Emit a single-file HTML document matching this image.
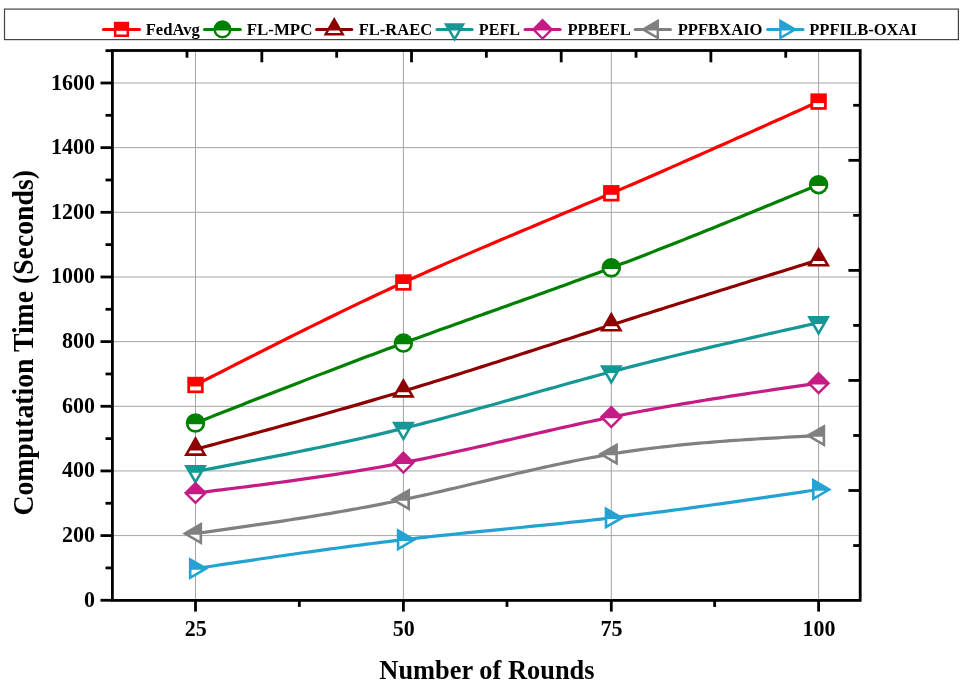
<!DOCTYPE html>
<html><head><meta charset="utf-8"><style>html,body{margin:0;padding:0;background:#fff;width:963px;height:686px;overflow:hidden}svg{display:block;will-change:transform}text{font-family:"Liberation Serif",serif;font-weight:bold}</style></head>
<body>
<svg width="963" height="686" viewBox="0 0 963 686" font-family="Liberation Serif, serif" font-weight="bold">
<rect width="963" height="686" fill="#fff"/>
<rect x="4.5" y="9.1" width="953.9" height="30.5" fill="#fff" stroke="#444" stroke-width="1.2"/>
<g stroke="#a4a4a4" stroke-width="1"><line x1="195.50" y1="50.5" x2="195.50" y2="600.4"/><line x1="403.40" y1="50.5" x2="403.40" y2="600.4"/><line x1="611.30" y1="50.5" x2="611.30" y2="600.4"/><line x1="818.60" y1="50.5" x2="818.60" y2="600.4"/><line x1="112.4" y1="535.60" x2="860.2" y2="535.60"/><line x1="112.4" y1="470.94" x2="860.2" y2="470.94"/><line x1="112.4" y1="406.29" x2="860.2" y2="406.29"/><line x1="112.4" y1="341.63" x2="860.2" y2="341.63"/><line x1="112.4" y1="276.97" x2="860.2" y2="276.97"/><line x1="112.4" y1="212.31" x2="860.2" y2="212.31"/><line x1="112.4" y1="147.65" x2="860.2" y2="147.65"/><line x1="112.4" y1="83.00" x2="860.2" y2="83.00"/></g>
<g stroke="#000" stroke-width="2.8"><line x1="100.50" y1="600.26" x2="112.4" y2="600.26"/><line x1="100.50" y1="535.60" x2="112.4" y2="535.60"/><line x1="100.50" y1="470.94" x2="112.4" y2="470.94"/><line x1="100.50" y1="406.29" x2="112.4" y2="406.29"/><line x1="100.50" y1="341.63" x2="112.4" y2="341.63"/><line x1="100.50" y1="276.97" x2="112.4" y2="276.97"/><line x1="100.50" y1="212.31" x2="112.4" y2="212.31"/><line x1="100.50" y1="147.65" x2="112.4" y2="147.65"/><line x1="100.50" y1="83.00" x2="112.4" y2="83.00"/><line x1="105.50" y1="567.93" x2="112.4" y2="567.93"/><line x1="105.50" y1="503.27" x2="112.4" y2="503.27"/><line x1="105.50" y1="438.62" x2="112.4" y2="438.62"/><line x1="105.50" y1="373.96" x2="112.4" y2="373.96"/><line x1="105.50" y1="309.30" x2="112.4" y2="309.30"/><line x1="105.50" y1="244.64" x2="112.4" y2="244.64"/><line x1="105.50" y1="179.98" x2="112.4" y2="179.98"/><line x1="105.50" y1="115.32" x2="112.4" y2="115.32"/><line x1="105.50" y1="50.67" x2="112.4" y2="50.67"/><line x1="195.50" y1="600.4" x2="195.50" y2="611.60"/><line x1="403.40" y1="600.4" x2="403.40" y2="611.60"/><line x1="611.30" y1="600.4" x2="611.30" y2="611.60"/><line x1="818.60" y1="600.4" x2="818.60" y2="611.60"/><line x1="299.33" y1="600.4" x2="299.33" y2="606.90"/><line x1="507.00" y1="600.4" x2="507.00" y2="606.90"/><line x1="714.67" y1="600.4" x2="714.67" y2="606.90"/><line x1="187.00" y1="50.5" x2="187.00" y2="57.70"/><line x1="261.84" y1="50.5" x2="261.84" y2="62.30"/><line x1="336.68" y1="50.5" x2="336.68" y2="57.70"/><line x1="411.52" y1="50.5" x2="411.52" y2="62.30"/><line x1="486.36" y1="50.5" x2="486.36" y2="57.70"/><line x1="561.20" y1="50.5" x2="561.20" y2="62.30"/><line x1="636.04" y1="50.5" x2="636.04" y2="57.70"/><line x1="710.88" y1="50.5" x2="710.88" y2="62.30"/><line x1="785.72" y1="50.5" x2="785.72" y2="57.70"/><line x1="860.2" y1="105.30" x2="853.20" y2="105.30"/><line x1="860.2" y1="160.33" x2="848.40" y2="160.33"/><line x1="860.2" y1="215.36" x2="853.20" y2="215.36"/><line x1="860.2" y1="270.39" x2="848.40" y2="270.39"/><line x1="860.2" y1="325.42" x2="853.20" y2="325.42"/><line x1="860.2" y1="380.45" x2="848.40" y2="380.45"/><line x1="860.2" y1="435.48" x2="853.20" y2="435.48"/><line x1="860.2" y1="490.51" x2="848.40" y2="490.51"/><line x1="860.2" y1="545.54" x2="853.20" y2="545.54"/></g>
<rect x="112.4" y="50.5" width="747.80" height="549.90" fill="none" stroke="#000" stroke-width="2.8"/>
<g font-size="22" fill="#000"><text transform="translate(95.1,606.76) scale(1,1.01)" text-anchor="end">0</text><text transform="translate(95.1,542.10) scale(1,1.01)" text-anchor="end">200</text><text transform="translate(95.1,477.44) scale(1,1.01)" text-anchor="end">400</text><text transform="translate(95.1,412.79) scale(1,1.01)" text-anchor="end">600</text><text transform="translate(95.1,348.13) scale(1,1.01)" text-anchor="end">800</text><text transform="translate(95.1,283.47) scale(1,1.01)" text-anchor="end">1000</text><text transform="translate(95.1,218.81) scale(1,1.01)" text-anchor="end">1200</text><text transform="translate(95.1,154.15) scale(1,1.01)" text-anchor="end">1400</text><text transform="translate(95.1,89.50) scale(1,1.01)" text-anchor="end">1600</text><text transform="translate(195.80,635.9) scale(1,1.01)" text-anchor="middle">25</text><text transform="translate(403.70,635.9) scale(1,1.01)" text-anchor="middle">50</text><text transform="translate(611.60,635.9) scale(1,1.01)" text-anchor="middle">75</text><text transform="translate(818.90,635.9) scale(1,1.01)" text-anchor="middle">100</text></g>
<text x="379.37" y="679.4" font-size="27" textLength="215.19" lengthAdjust="spacingAndGlyphs">Number of Rounds</text>
<text transform="translate(32.8,515.6) rotate(-90)" x="0" y="0" font-size="29" textLength="345.5" lengthAdjust="spacingAndGlyphs">Computation Time (Seconds)</text>
<polyline points="195.50,385.00 200.70,382.34 205.90,379.69 211.09,377.03 216.29,374.38 221.49,371.73 226.69,369.08 231.88,366.43 237.08,363.78 242.28,361.14 247.47,358.50 252.67,355.86 257.87,353.23 263.07,350.60 268.26,347.98 273.46,345.36 278.66,342.75 283.86,340.14 289.06,337.54 294.25,334.94 299.45,332.35 304.65,329.77 309.84,327.19 315.04,324.63 320.24,322.07 325.44,319.52 330.63,316.97 335.83,314.44 341.03,311.92 346.23,309.40 351.42,306.90 356.62,304.41 361.82,301.93 367.02,299.45 372.21,296.99 377.41,294.55 382.61,292.11 387.81,289.69 393.00,287.28 398.20,284.88 403.40,282.50 408.60,280.13 413.79,277.78 418.99,275.43 424.19,273.10 429.39,270.78 434.58,268.48 439.78,266.18 444.98,263.90 450.18,261.62 455.38,259.36 460.57,257.10 465.77,254.85 470.97,252.61 476.16,250.38 481.36,248.15 486.56,245.93 491.76,243.72 496.95,241.51 502.15,239.31 507.35,237.11 512.55,234.92 517.75,232.72 522.94,230.54 528.14,228.35 533.34,226.17 538.53,223.98 543.73,221.80 548.93,219.62 554.13,217.44 559.32,215.26 564.52,213.08 569.72,210.89 574.92,208.71 580.12,206.52 585.31,204.32 590.51,202.13 595.71,199.93 600.90,197.72 606.10,195.52 611.30,193.30 616.48,191.09 621.66,188.86 626.85,186.64 632.03,184.41 637.21,182.17 642.39,179.93 647.58,177.68 652.76,175.43 657.94,173.17 663.12,170.91 668.31,168.64 673.49,166.37 678.67,164.09 683.86,161.81 689.04,159.53 694.22,157.24 699.40,154.95 704.59,152.66 709.77,150.36 714.95,148.06 720.13,145.75 725.31,143.45 730.50,141.14 735.68,138.82 740.86,136.51 746.05,134.19 751.23,131.87 756.41,129.55 761.59,127.23 766.77,124.90 771.96,122.58 777.14,120.25 782.32,117.92 787.50,115.59 792.69,113.26 797.87,110.93 803.05,108.60 808.24,106.27 813.42,103.93 818.60,101.60" fill="none" stroke="#FF0000" stroke-width="3.2" stroke-linejoin="round"/>
<polyline points="195.50,423.00 200.70,420.96 205.90,418.92 211.09,416.88 216.29,414.84 221.49,412.80 226.69,410.76 231.88,408.72 237.08,406.68 242.28,404.65 247.47,402.61 252.67,400.58 257.87,398.55 263.07,396.52 268.26,394.49 273.46,392.47 278.66,390.45 283.86,388.43 289.06,386.41 294.25,384.40 299.45,382.39 304.65,380.38 309.84,378.38 315.04,376.38 320.24,374.38 325.44,372.39 330.63,370.40 335.83,368.42 341.03,366.44 346.23,364.47 351.42,362.50 356.62,360.53 361.82,358.57 367.02,356.62 372.21,354.67 377.41,352.73 382.61,350.79 387.81,348.86 393.00,346.93 398.20,345.01 403.40,343.10 408.60,341.19 413.79,339.29 418.99,337.40 424.19,335.51 429.39,333.63 434.58,331.75 439.78,329.87 444.98,328.00 450.18,326.14 455.38,324.27 460.57,322.41 465.77,320.55 470.97,318.69 476.16,316.84 481.36,314.98 486.56,313.13 491.76,311.27 496.95,309.42 502.15,307.56 507.35,305.71 512.55,303.85 517.75,301.99 522.94,300.13 528.14,298.27 533.34,296.40 538.53,294.53 543.73,292.66 548.93,290.78 554.13,288.90 559.32,287.02 564.52,285.13 569.72,283.23 574.92,281.33 580.12,279.42 585.31,277.50 590.51,275.58 595.71,273.64 600.90,271.70 606.10,269.76 611.30,267.80 616.48,265.84 621.66,263.87 626.85,261.89 632.03,259.91 637.21,257.91 642.39,255.91 647.58,253.90 652.76,251.88 657.94,249.86 663.12,247.83 668.31,245.79 673.49,243.74 678.67,241.69 683.86,239.63 689.04,237.57 694.22,235.50 699.40,233.42 704.59,231.34 709.77,229.26 714.95,227.17 720.13,225.07 725.31,222.97 730.50,220.87 735.68,218.76 740.86,216.65 746.05,214.53 751.23,212.42 756.41,210.30 761.59,208.17 766.77,206.05 771.96,203.92 777.14,201.79 782.32,199.66 787.50,197.52 792.69,195.39 797.87,193.25 803.05,191.11 808.24,188.98 813.42,186.84 818.60,184.70" fill="none" stroke="#008000" stroke-width="3.2" stroke-linejoin="round"/>
<polyline points="195.50,449.30 200.70,447.90 205.90,446.50 211.09,445.10 216.29,443.69 221.49,442.29 226.69,440.89 231.88,439.48 237.08,438.07 242.28,436.67 247.47,435.26 252.67,433.84 257.87,432.43 263.07,431.01 268.26,429.59 273.46,428.17 278.66,426.75 283.86,425.32 289.06,423.89 294.25,422.45 299.45,421.01 304.65,419.57 309.84,418.12 315.04,416.67 320.24,415.21 325.44,413.75 330.63,412.28 335.83,410.81 341.03,409.33 346.23,407.85 351.42,406.36 356.62,404.86 361.82,403.36 367.02,401.85 372.21,400.34 377.41,398.82 382.61,397.29 387.81,395.75 393.00,394.21 398.20,392.66 403.40,391.10 408.60,389.53 413.79,387.96 418.99,386.38 424.19,384.79 429.39,383.19 434.58,381.59 439.78,379.98 444.98,378.36 450.18,376.74 455.38,375.11 460.57,373.48 465.77,371.84 470.97,370.20 476.16,368.55 481.36,366.90 486.56,365.24 491.76,363.58 496.95,361.92 502.15,360.25 507.35,358.58 512.55,356.91 517.75,355.24 522.94,353.56 528.14,351.88 533.34,350.20 538.53,348.52 543.73,346.84 548.93,345.15 554.13,343.47 559.32,341.79 564.52,340.10 569.72,338.42 574.92,336.74 580.12,335.06 585.31,333.38 590.51,331.70 595.71,330.02 600.90,328.34 606.10,326.67 611.30,325.00 616.48,323.34 621.66,321.68 626.85,320.02 632.03,318.36 637.21,316.71 642.39,315.06 647.58,313.41 652.76,311.77 657.94,310.12 663.12,308.48 668.31,306.84 673.49,305.21 678.67,303.57 683.86,301.94 689.04,300.31 694.22,298.68 699.40,297.05 704.59,295.42 709.77,293.80 714.95,292.17 720.13,290.55 725.31,288.93 730.50,287.31 735.68,285.69 740.86,284.07 746.05,282.46 751.23,280.84 756.41,279.23 761.59,277.61 766.77,276.00 771.96,274.39 777.14,272.78 782.32,271.17 787.50,269.56 792.69,267.95 797.87,266.34 803.05,264.73 808.24,263.12 813.42,261.51 818.60,259.90" fill="none" stroke="#8E0000" stroke-width="3.2" stroke-linejoin="round"/>
<polyline points="195.50,471.50 200.70,470.52 205.90,469.55 211.09,468.57 216.29,467.60 221.49,466.62 226.69,465.63 231.88,464.65 237.08,463.67 242.28,462.68 247.47,461.68 252.67,460.69 257.87,459.69 263.07,458.68 268.26,457.67 273.46,456.66 278.66,455.63 283.86,454.61 289.06,453.57 294.25,452.53 299.45,451.48 304.65,450.43 309.84,449.36 315.04,448.29 320.24,447.21 325.44,446.12 330.63,445.02 335.83,443.91 341.03,442.79 346.23,441.66 351.42,440.52 356.62,439.36 361.82,438.20 367.02,437.02 372.21,435.83 377.41,434.63 382.61,433.41 387.81,432.18 393.00,430.93 398.20,429.67 403.40,428.40 408.60,427.11 413.79,425.81 418.99,424.49 424.19,423.16 429.39,421.81 434.58,420.45 439.78,419.09 444.98,417.71 450.18,416.32 455.38,414.92 460.57,413.51 465.77,412.10 470.97,410.68 476.16,409.25 481.36,407.81 486.56,406.37 491.76,404.92 496.95,403.47 502.15,402.02 507.35,400.56 512.55,399.10 517.75,397.64 522.94,396.18 528.14,394.71 533.34,393.25 538.53,391.79 543.73,390.33 548.93,388.87 554.13,387.42 559.32,385.97 564.52,384.52 569.72,383.08 574.92,381.64 580.12,380.21 585.31,378.79 590.51,377.37 595.71,375.97 600.90,374.57 606.10,373.18 611.30,371.80 616.48,370.44 621.66,369.08 626.85,367.74 632.03,366.40 637.21,365.08 642.39,363.76 647.58,362.46 652.76,361.16 657.94,359.87 663.12,358.59 668.31,357.32 673.49,356.05 678.67,354.80 683.86,353.55 689.04,352.30 694.22,351.07 699.40,349.84 704.59,348.61 709.77,347.39 714.95,346.18 720.13,344.97 725.31,343.77 730.50,342.58 735.68,341.38 740.86,340.19 746.05,339.01 751.23,337.83 756.41,336.65 761.59,335.48 766.77,334.31 771.96,333.14 777.14,331.97 782.32,330.81 787.50,329.65 792.69,328.49 797.87,327.33 803.05,326.17 808.24,325.01 813.42,323.86 818.60,322.70" fill="none" stroke="#169694" stroke-width="3.2" stroke-linejoin="round"/>
<polyline points="195.50,493.00 200.70,492.36 205.90,491.73 211.09,491.09 216.29,490.45 221.49,489.81 226.69,489.17 231.88,488.52 237.08,487.87 242.28,487.22 247.47,486.56 252.67,485.90 257.87,485.24 263.07,484.56 268.26,483.89 273.46,483.20 278.66,482.51 283.86,481.81 289.06,481.11 294.25,480.39 299.45,479.67 304.65,478.94 309.84,478.20 315.04,477.45 320.24,476.68 325.44,475.91 330.63,475.13 335.83,474.33 341.03,473.52 346.23,472.70 351.42,471.87 356.62,471.02 361.82,470.16 367.02,469.28 372.21,468.39 377.41,467.48 382.61,466.56 387.81,465.62 393.00,464.66 398.20,463.69 403.40,462.70 408.60,461.69 413.79,460.66 418.99,459.62 424.19,458.56 429.39,457.49 434.58,456.40 439.78,455.30 444.98,454.19 450.18,453.06 455.38,451.93 460.57,450.78 465.77,449.63 470.97,448.47 476.16,447.30 481.36,446.12 486.56,444.94 491.76,443.75 496.95,442.56 502.15,441.37 507.35,440.18 512.55,438.98 517.75,437.78 522.94,436.58 528.14,435.39 533.34,434.20 538.53,433.00 543.73,431.82 548.93,430.63 554.13,429.46 559.32,428.29 564.52,427.12 569.72,425.97 574.92,424.82 580.12,423.68 585.31,422.55 590.51,421.44 595.71,420.33 600.90,419.24 606.10,418.16 611.30,417.10 616.48,416.06 621.66,415.03 626.85,414.01 632.03,413.01 637.21,412.02 642.39,411.05 647.58,410.09 652.76,409.14 657.94,408.20 663.12,407.28 668.31,406.37 673.49,405.47 678.67,404.58 683.86,403.70 689.04,402.83 694.22,401.97 699.40,401.12 704.59,400.27 709.77,399.44 714.95,398.61 720.13,397.80 725.31,396.98 730.50,396.18 735.68,395.38 740.86,394.59 746.05,393.81 751.23,393.03 756.41,392.25 761.59,391.48 766.77,390.71 771.96,389.95 777.14,389.19 782.32,388.44 787.50,387.68 792.69,386.93 797.87,386.18 803.05,385.44 808.24,384.69 813.42,383.95 818.60,383.20" fill="none" stroke="#C41C84" stroke-width="3.2" stroke-linejoin="round"/>
<polyline points="195.50,533.50 200.70,532.77 205.90,532.05 211.09,531.32 216.29,530.59 221.49,529.86 226.69,529.13 231.88,528.40 237.08,527.66 242.28,526.92 247.47,526.17 252.67,525.42 257.87,524.67 263.07,523.90 268.26,523.14 273.46,522.36 278.66,521.58 283.86,520.80 289.06,520.00 294.25,519.20 299.45,518.38 304.65,517.56 309.84,516.73 315.04,515.89 320.24,515.04 325.44,514.18 330.63,513.30 335.83,512.42 341.03,511.52 346.23,510.61 351.42,509.68 356.62,508.74 361.82,507.79 367.02,506.82 372.21,505.84 377.41,504.84 382.61,503.83 387.81,502.80 393.00,501.75 398.20,500.68 403.40,499.60 408.60,498.50 413.79,497.38 418.99,496.25 424.19,495.10 429.39,493.94 434.58,492.76 439.78,491.57 444.98,490.38 450.18,489.17 455.38,487.96 460.57,486.74 465.77,485.52 470.97,484.29 476.16,483.06 481.36,481.83 486.56,480.60 491.76,479.37 496.95,478.14 502.15,476.92 507.35,475.70 512.55,474.48 517.75,473.27 522.94,472.07 528.14,470.88 533.34,469.70 538.53,468.54 543.73,467.38 548.93,466.24 554.13,465.11 559.32,464.01 564.52,462.92 569.72,461.84 574.92,460.79 580.12,459.76 585.31,458.75 590.51,457.77 595.71,456.81 600.90,455.88 606.10,454.98 611.30,454.10 616.48,453.26 621.66,452.44 626.85,451.65 632.03,450.89 637.21,450.16 642.39,449.46 647.58,448.77 652.76,448.12 657.94,447.48 663.12,446.87 668.31,446.29 673.49,445.72 678.67,445.18 683.86,444.65 689.04,444.14 694.22,443.66 699.40,443.19 704.59,442.73 709.77,442.30 714.95,441.88 720.13,441.47 725.31,441.08 730.50,440.70 735.68,440.34 740.86,439.98 746.05,439.64 751.23,439.31 756.41,438.99 761.59,438.67 766.77,438.37 771.96,438.07 777.14,437.78 782.32,437.49 787.50,437.21 792.69,436.94 797.87,436.67 803.05,436.40 808.24,436.13 813.42,435.86 818.60,435.60" fill="none" stroke="#808080" stroke-width="3.2" stroke-linejoin="round"/>
<polyline points="195.50,568.60 200.70,567.82 205.90,567.04 211.09,566.26 216.29,565.48 221.49,564.70 226.69,563.92 231.88,563.15 237.08,562.37 242.28,561.60 247.47,560.83 252.67,560.06 257.87,559.29 263.07,558.53 268.26,557.77 273.46,557.01 278.66,556.25 283.86,555.50 289.06,554.76 294.25,554.01 299.45,553.27 304.65,552.54 309.84,551.81 315.04,551.08 320.24,550.36 325.44,549.65 330.63,548.94 335.83,548.23 341.03,547.53 346.23,546.84 351.42,546.16 356.62,545.48 361.82,544.81 367.02,544.14 372.21,543.48 377.41,542.83 382.61,542.19 387.81,541.56 393.00,540.93 398.20,540.31 403.40,539.70 408.60,539.10 413.79,538.51 418.99,537.92 424.19,537.34 429.39,536.77 434.58,536.21 439.78,535.65 444.98,535.10 450.18,534.55 455.38,534.01 460.57,533.47 465.77,532.94 470.97,532.41 476.16,531.89 481.36,531.36 486.56,530.84 491.76,530.32 496.95,529.80 502.15,529.29 507.35,528.77 512.55,528.25 517.75,527.74 522.94,527.22 528.14,526.70 533.34,526.18 538.53,525.66 543.73,525.13 548.93,524.61 554.13,524.08 559.32,523.54 564.52,523.00 569.72,522.46 574.92,521.91 580.12,521.36 585.31,520.80 590.51,520.23 595.71,519.66 600.90,519.08 606.10,518.50 611.30,517.90 616.48,517.30 621.66,516.69 626.85,516.07 632.03,515.44 637.21,514.81 642.39,514.17 647.58,513.52 652.76,512.87 657.94,512.21 663.12,511.54 668.31,510.86 673.49,510.18 678.67,509.50 683.86,508.80 689.04,508.11 694.22,507.40 699.40,506.69 704.59,505.98 709.77,505.26 714.95,504.54 720.13,503.82 725.31,503.09 730.50,502.35 735.68,501.61 740.86,500.87 746.05,500.13 751.23,499.38 756.41,498.63 761.59,497.88 766.77,497.13 771.96,496.37 777.14,495.61 782.32,494.85 787.50,494.09 792.69,493.33 797.87,492.56 803.05,491.80 808.24,491.03 813.42,490.27 818.60,489.50" fill="none" stroke="#24A3D3" stroke-width="3.2" stroke-linejoin="round"/>
<rect x="187.30" y="376.80" width="16.40" height="16.40" fill="#FF0000"/>
<rect x="190.05" y="386.50" width="10.90" height="3.95" fill="#fff"/>
<rect x="395.20" y="274.30" width="16.40" height="16.40" fill="#FF0000"/>
<rect x="397.95" y="284.00" width="10.90" height="3.95" fill="#fff"/>
<rect x="603.10" y="185.10" width="16.40" height="16.40" fill="#FF0000"/>
<rect x="605.85" y="194.80" width="10.90" height="3.95" fill="#fff"/>
<rect x="810.40" y="93.40" width="16.40" height="16.40" fill="#FF0000"/>
<rect x="813.15" y="103.10" width="10.90" height="3.95" fill="#fff"/>
<circle cx="195.50" cy="423.00" r="9.75" fill="#008000"/>
<path d="M188.55,424.20 A7.05,7.05 0 0 0 202.45,424.20 Z" fill="#fff"/>
<circle cx="403.40" cy="343.10" r="9.75" fill="#008000"/>
<path d="M396.45,344.30 A7.05,7.05 0 0 0 410.35,344.30 Z" fill="#fff"/>
<circle cx="611.30" cy="267.80" r="9.75" fill="#008000"/>
<path d="M604.35,269.00 A7.05,7.05 0 0 0 618.25,269.00 Z" fill="#fff"/>
<circle cx="818.60" cy="184.70" r="9.75" fill="#008000"/>
<path d="M811.65,185.90 A7.05,7.05 0 0 0 825.55,185.90 Z" fill="#fff"/>
<polygon points="195.50,436.10 206.93,455.90 184.07,455.90" fill="#8E0000"/>
<polygon points="200.81,450.50 202.43,453.30 188.57,453.30 190.19,450.50" fill="#fff"/>
<polygon points="403.40,377.90 414.83,397.70 391.97,397.70" fill="#8E0000"/>
<polygon points="408.71,392.30 410.33,395.10 396.47,395.10 398.09,392.30" fill="#fff"/>
<polygon points="611.30,311.80 622.73,331.60 599.87,331.60" fill="#8E0000"/>
<polygon points="616.61,326.20 618.23,329.00 604.37,329.00 605.99,326.20" fill="#fff"/>
<polygon points="818.60,246.70 830.03,266.50 807.17,266.50" fill="#8E0000"/>
<polygon points="823.91,261.10 825.53,263.90 811.67,263.90 813.29,261.10" fill="#fff"/>
<polygon points="195.50,484.70 206.93,464.90 184.07,464.90" fill="#169694"/>
<polygon points="195.50,479.50 199.43,472.70 191.57,472.70" fill="#fff"/>
<polygon points="403.40,441.60 414.83,421.80 391.97,421.80" fill="#169694"/>
<polygon points="403.40,436.40 407.33,429.60 399.47,429.60" fill="#fff"/>
<polygon points="611.30,385.00 622.73,365.20 599.87,365.20" fill="#169694"/>
<polygon points="611.30,379.80 615.23,373.00 607.37,373.00" fill="#fff"/>
<polygon points="818.60,335.90 830.03,316.10 807.17,316.10" fill="#169694"/>
<polygon points="818.60,330.70 822.53,323.90 814.67,323.90" fill="#fff"/>
<polygon points="195.50,481.40 207.10,493.00 195.50,504.60 183.90,493.00" fill="#C41C84"/>
<polygon points="188.64,494.20 202.36,494.20 195.50,501.06" fill="#fff"/>
<polygon points="403.40,451.10 415.00,462.70 403.40,474.30 391.80,462.70" fill="#C41C84"/>
<polygon points="396.54,463.90 410.26,463.90 403.40,470.76" fill="#fff"/>
<polygon points="611.30,405.50 622.90,417.10 611.30,428.70 599.70,417.10" fill="#C41C84"/>
<polygon points="604.44,418.30 618.16,418.30 611.30,425.16" fill="#fff"/>
<polygon points="818.60,371.60 830.20,383.20 818.60,394.80 807.00,383.20" fill="#C41C84"/>
<polygon points="811.74,384.40 825.46,384.40 818.60,391.26" fill="#fff"/>
<polygon points="182.30,533.50 202.10,544.93 202.10,522.07" fill="#808080"/>
<polygon points="189.58,534.70 199.50,540.43 199.50,534.70" fill="#fff"/>
<polygon points="390.20,499.60 410.00,511.03 410.00,488.17" fill="#808080"/>
<polygon points="397.48,500.80 407.40,506.53 407.40,500.80" fill="#fff"/>
<polygon points="598.10,454.10 617.90,465.53 617.90,442.67" fill="#808080"/>
<polygon points="605.38,455.30 615.30,461.03 615.30,455.30" fill="#fff"/>
<polygon points="805.40,435.60 825.20,447.03 825.20,424.17" fill="#808080"/>
<polygon points="812.68,436.80 822.60,442.53 822.60,436.80" fill="#fff"/>
<polygon points="208.70,568.60 188.90,580.03 188.90,557.17" fill="#24A3D3"/>
<polygon points="201.42,569.80 191.50,575.53 191.50,569.80" fill="#fff"/>
<polygon points="416.60,539.70 396.80,551.13 396.80,528.27" fill="#24A3D3"/>
<polygon points="409.32,540.90 399.40,546.63 399.40,540.90" fill="#fff"/>
<polygon points="624.50,517.90 604.70,529.33 604.70,506.47" fill="#24A3D3"/>
<polygon points="617.22,519.10 607.30,524.83 607.30,519.10" fill="#fff"/>
<polygon points="831.80,489.50 812.00,500.93 812.00,478.07" fill="#24A3D3"/>
<polygon points="824.52,490.70 814.60,496.43 814.60,490.70" fill="#fff"/>
<line x1="103.40" y1="29.4" x2="139.60" y2="29.4" stroke="#FF0000" stroke-width="3" stroke-linecap="round"/>
<rect x="113.87" y="21.77" width="15.25" height="15.25" fill="#FF0000"/>
<rect x="116.43" y="30.82" width="10.14" height="3.65" fill="#fff"/>
<text x="145.65" y="34.8" font-size="17.5" textLength="54.10" lengthAdjust="spacingAndGlyphs">FedAvg</text>
<line x1="204.50" y1="29.4" x2="240.40" y2="29.4" stroke="#008000" stroke-width="3" stroke-linecap="round"/>
<circle cx="222.45" cy="29.40" r="9.07" fill="#008000"/>
<path d="M215.99,30.52 A6.56,6.56 0 0 0 228.91,30.52 Z" fill="#fff"/>
<text x="246.75" y="34.8" font-size="17.5" textLength="65.57" lengthAdjust="spacingAndGlyphs">FL-MPC</text>
<line x1="316.60" y1="29.4" x2="351.80" y2="29.4" stroke="#8E0000" stroke-width="3" stroke-linecap="round"/>
<polygon points="334.20,17.12 344.83,35.54 323.57,35.54" fill="#8E0000"/>
<polygon points="339.14,30.52 340.64,33.12 327.76,33.12 329.26,30.52" fill="#fff"/>
<text x="358.75" y="34.8" font-size="17.5" textLength="73.46" lengthAdjust="spacingAndGlyphs">FL-RAEC</text>
<line x1="437.00" y1="29.4" x2="472.10" y2="29.4" stroke="#169694" stroke-width="3" stroke-linecap="round"/>
<polygon points="454.55,41.68 465.18,23.26 443.92,23.26" fill="#169694"/>
<polygon points="454.55,36.84 458.20,30.52 450.90,30.52" fill="#fff"/>
<text x="478.86" y="34.8" font-size="17.5" textLength="41.20" lengthAdjust="spacingAndGlyphs">PEFL</text>
<line x1="525.00" y1="29.4" x2="560.10" y2="29.4" stroke="#C41C84" stroke-width="3" stroke-linecap="round"/>
<polygon points="542.55,18.61 553.34,29.40 542.55,40.19 531.76,29.40" fill="#C41C84"/>
<polygon points="536.17,30.52 548.93,30.52 542.55,36.90" fill="#fff"/>
<text x="567.45" y="34.8" font-size="17.5" textLength="63.47" lengthAdjust="spacingAndGlyphs">PPBEFL</text>
<line x1="635.20" y1="29.4" x2="670.50" y2="29.4" stroke="#808080" stroke-width="3" stroke-linecap="round"/>
<polygon points="640.57,29.40 658.99,40.03 658.99,18.77" fill="#808080"/>
<polygon points="647.34,30.52 656.57,35.84 656.57,30.52" fill="#fff"/>
<text x="677.65" y="34.8" font-size="17.5" textLength="84.91" lengthAdjust="spacingAndGlyphs">PPFBXAIO</text>
<line x1="767.60" y1="29.4" x2="803.00" y2="29.4" stroke="#24A3D3" stroke-width="3" stroke-linecap="round"/>
<polygon points="797.58,29.40 779.16,40.03 779.16,18.77" fill="#24A3D3"/>
<polygon points="790.81,30.52 781.58,35.84 781.58,30.52" fill="#fff"/>
<text x="809.25" y="34.8" font-size="17.5" textLength="107.73" lengthAdjust="spacingAndGlyphs">PPFILB-OXAI</text>
</svg>
</body></html>
